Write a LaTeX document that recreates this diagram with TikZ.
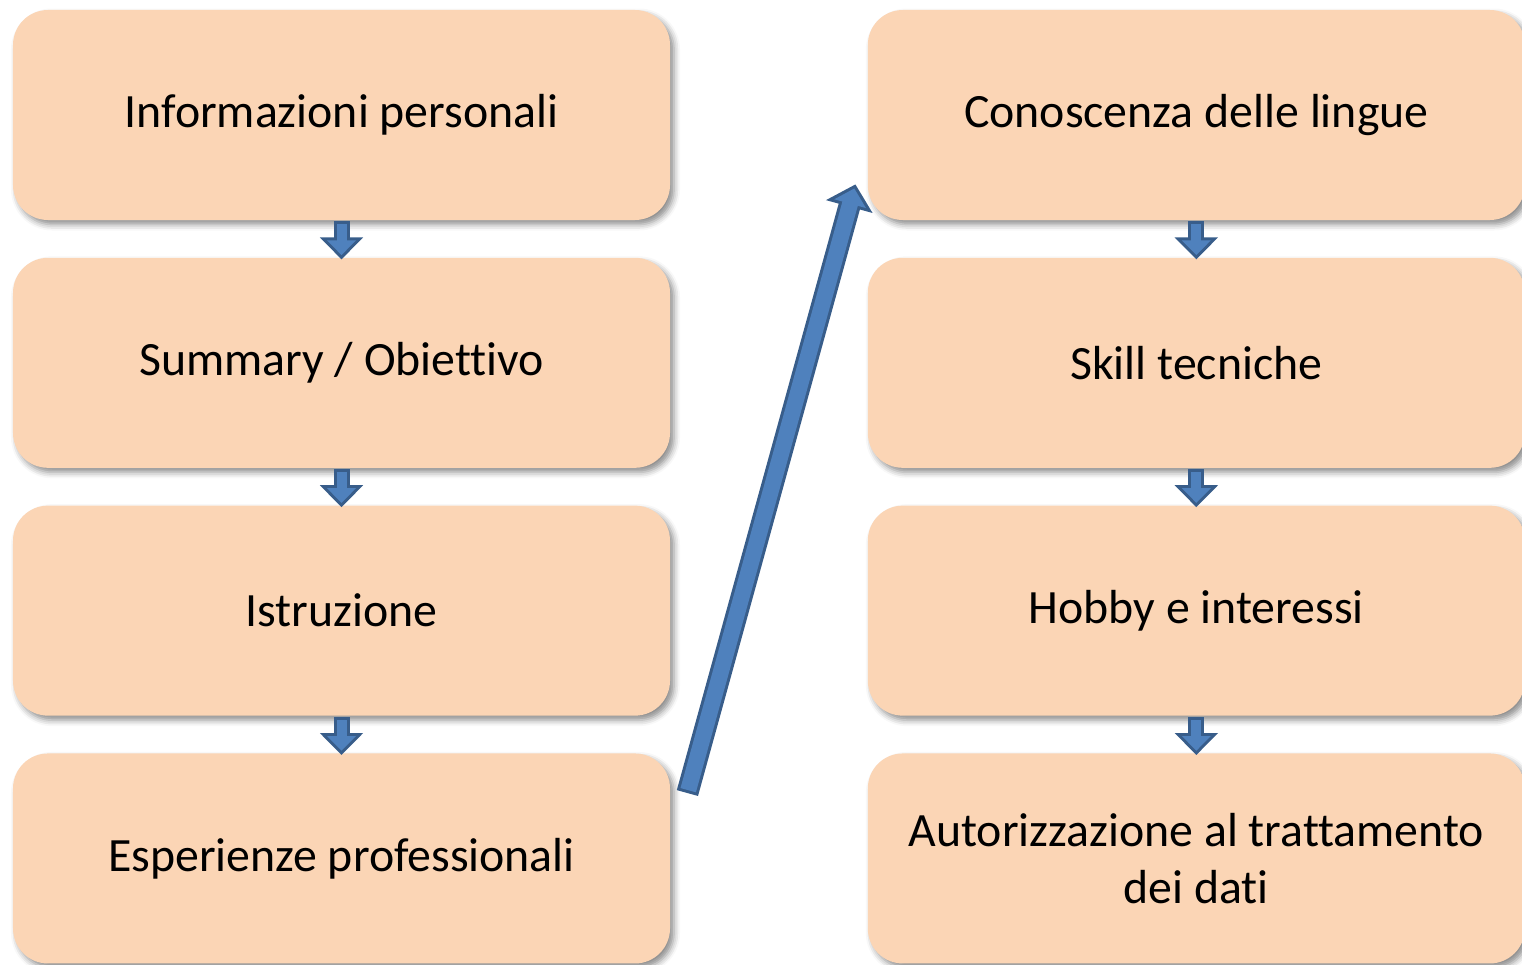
\documentclass[tikz,border=0pt]{standalone}
\usepackage{fontspec}
\setmainfont{Carlito}[Ligatures=NoCommon]
\usetikzlibrary{positioning}
\usetikzlibrary{calc}
\usetikzlibrary{arrows.meta}
\usetikzlibrary{shadows.blur}
\definecolor{peach}{HTML}{FBD5B5}
\definecolor{arrowfill}{HTML}{4F81BD}
\definecolor{arrowline}{HTML}{385D8A}

\begin{document}
\begin{tikzpicture}
[-,thick,%
  cvbox/.style={shape=rectangle,rounded corners=0.35cm,fill=peach,draw=none,%
    minimum width=6.57cm,minimum height=2.1cm,align=center,%
    blur shadow={shadow xshift=0.04cm,shadow yshift=-0.045cm,%
      shadow blur radius=0.06cm,shadow opacity=45}},%
  downarrow/.style={line width=0.10cm,arrowfill,shorten >=0.013cm,shorten <=0.03cm,%
    -{Triangle[width=0.28cm,length=0.147cm]},%
    preaction={draw=arrowline,line width=0.16cm,shorten >=-0.03cm,shorten <=0cm,%
      -{Triangle[width=0.42cm,length=0.22cm]}}},%
  bigarrow/.style={line width=0.16cm,arrowfill,shorten >=0.042cm,shorten <=0.03cm,%
    -{Triangle[width=0.32cm,length=0.158cm]},%
    preaction={draw=arrowline,line width=0.22cm,shorten >=0cm,shorten <=0cm,%
      -{Triangle[width=0.47cm,length=0.23cm]}}}]
\fontsize{13.6pt}{16.3pt}\selectfont
\useasboundingbox (0,0) rectangle (15.22,-9.64);
\node[cvbox] (info) at (3.415,-1.15) {Informazioni personali};
\node[cvbox] (summary) [below=0.35cm of info] {Summary / Obiettivo};
\node[cvbox] (istruzione) [below=0.35cm of summary] {Istruzione};
\node[cvbox] (esperienze) [below=0.35cm of istruzione] {Esperienze professionali};
\node[cvbox] (lingue) [right=1.95cm of info] {Conoscenza delle lingue};
\node[cvbox] (skill) [below=0.35cm of lingue] {Skill tecniche};
\node[cvbox] (hobby) [below=0.35cm of skill] {Hobby e interessi};
\node[cvbox] (privacy) [below=0.35cm of hobby] {Autorizzazione al trattamento\\dei dati};
\coordinate (jumpfrom) at ($(esperienze.north east)+(0.16,-0.41)$);
\coordinate (jumpto) at ($(lingue.south west)+(-0.11,0.37)$);
\draw[downarrow] (info.south) -- (summary.north);
\draw[downarrow] (summary.south) -- (istruzione.north);
\draw[downarrow] (istruzione.south) -- (esperienze.north);
\draw[downarrow] (lingue.south) -- (skill.north);
\draw[downarrow] (skill.south) -- (hobby.north);
\draw[downarrow] (hobby.south) -- (privacy.north);
\draw[bigarrow] (jumpfrom) -- (jumpto);
\end{tikzpicture}
\end{document}
